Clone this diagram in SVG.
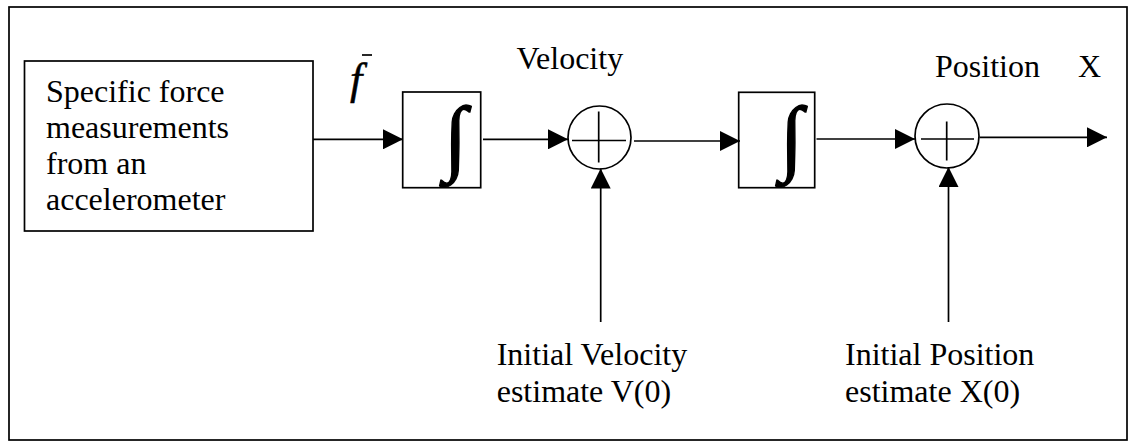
<svg xmlns="http://www.w3.org/2000/svg" width="1136" height="448" viewBox="0 0 1136 448">
<style>
.ln{stroke:#000;stroke-width:1.7;fill:none}
.bx{stroke:#000;stroke-width:1.7;fill:#fff}
.t{font-family:"Liberation Serif","Times New Roman",serif;font-size:32px;fill:#000}
.int{font-family:"Liberation Serif","Times New Roman",serif;font-size:84px;fill:#000;stroke:#000;stroke-width:1.4}
.fi{font-family:"Liberation Serif","Times New Roman",serif;font-style:italic;font-size:44px;fill:#000;stroke:#000;stroke-width:0.5}
</style>
<defs>
<marker id="ah" markerUnits="userSpaceOnUse" markerWidth="20" markerHeight="20" refX="20" refY="10" orient="auto">
<path d="M0,0 L20,10 L0,20 z" fill="#000"/>
</marker>
</defs>
<rect x="0" y="0" width="1136" height="448" fill="#fff"/>
<rect id="frame" class="ln" x="9" y="7" width="1118" height="433"/>
<g id="source">
<rect class="bx" x="24.5" y="61" width="288.5" height="170"/>
<text class="t" x="46" y="101.5">Specific force</text>
<text class="t" x="46" y="137.5">measurements</text>
<text class="t" x="46" y="173.5">from an</text>
<text class="t" x="46" y="209.5">accelerometer</text>
</g>
<g id="int1">
<rect class="bx" x="402.7" y="92" width="78" height="95.7"/>
<text class="int" x="455.5" y="165" text-anchor="middle">∫</text>
</g>
<g id="sum1">
<circle class="bx" cx="599.5" cy="137.5" r="31.5"/>
<line class="ln" x1="572" y1="140.5" x2="626" y2="140.5"/>
<line class="ln" x1="598.7" y1="111.5" x2="598.7" y2="162.5"/>
</g>
<g id="int2">
<rect class="bx" x="738.7" y="92.3" width="76" height="95.4"/>
<text class="int" x="791.5" y="165" text-anchor="middle">∫</text>
</g>
<g id="sum2">
<circle class="bx" cx="947" cy="136" r="32"/>
<line class="ln" x1="921" y1="139" x2="974" y2="139"/>
<line class="ln" x1="946.7" y1="121.5" x2="946.7" y2="160.5"/>
</g>
<g id="labels">
<text class="t" x="516.5" y="68.5">Velocity</text>
<text class="t" x="935" y="76.5">Position</text>
<text class="t" x="1078" y="76.5">X</text>
<g id="fbar">
<text class="fi" x="350" y="94">f</text>
<line class="ln" x1="362" y1="55" x2="372" y2="55"/>
</g>
<text class="t" x="496.7" y="365">Initial Velocity</text>
<text class="t" x="496.7" y="401.5">estimate V(0)</text>
<text class="t" x="845" y="365">Initial Position</text>
<text class="t" x="845" y="401.5">estimate X(0)</text>
</g>
<g id="connectors">
<line class="ln" x1="313" y1="139.3" x2="403" y2="139.3" marker-end="url(#ah)"/>
<line class="ln" x1="483" y1="139.3" x2="568" y2="139.3" marker-end="url(#ah)"/>
<line class="ln" x1="634" y1="141" x2="740" y2="141" marker-end="url(#ah)"/>
<line class="ln" x1="816.5" y1="139" x2="915" y2="139" marker-end="url(#ah)"/>
<line class="ln" x1="979.5" y1="137.3" x2="1107" y2="137.3" marker-end="url(#ah)"/>
<line class="ln" x1="600.7" y1="322" x2="600.7" y2="168.5" marker-end="url(#ah)"/>
<line class="ln" x1="948.5" y1="322" x2="948.5" y2="167" marker-end="url(#ah)"/>
</g>
</svg>
